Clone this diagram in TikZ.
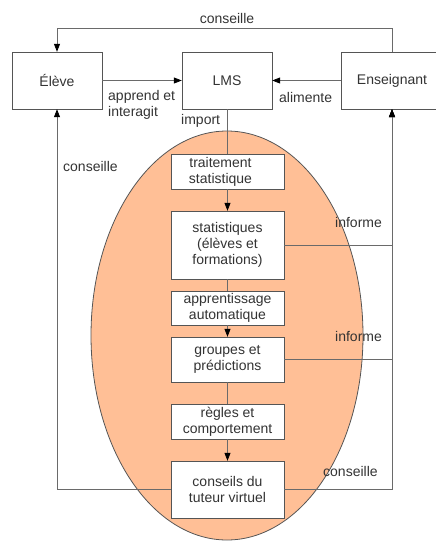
\documentclass[tikz,border=0pt]{standalone}
\usepackage{fontspec}
\setmainfont{Liberation Sans}
\usetikzlibrary{arrows.meta}
\definecolor{txt}{HTML}{333333}
\definecolor{ln}{HTML}{6A6A6A}
\definecolor{bd}{HTML}{555555}
\definecolor{peach}{HTML}{FFBF96}
\begin{document}
\begin{tikzpicture}[x=1pt,y=-1pt,
  every node/.style={text=txt,font=\fontsize{14}{16}\selectfont},
  box/.style={draw=bd,fill=white,align=center,inner sep=0pt},
  lbl/.style={inner sep=0pt,anchor=west,align=left},
  conn/.style={draw=ln,line width=0.8pt},
  arr/.style={conn,-{Triangle[length=8pt,width=6pt,color=black]}}]
\useasboundingbox (0,0) rectangle (436,542);
\fill[peach,draw=bd,line width=0.8pt] (227,335.5) ellipse [x radius=136, y radius=204.5];
% main boxes
\node[box,minimum width=90,minimum height=57] (eleve) at (57,80.5) {Élève};
\node[box,minimum width=90,minimum height=57] (lms) at (227,80.5) {LMS};
\node[box,minimum width=102,minimum height=57] (ens) at (392,80.5) {Enseignant};
% inner boxes
\node[box,minimum width=113,minimum height=35] (trait) at (227.5,171.5) {\hspace*{-14pt}traitement\\\hspace*{-14pt}statistique};
\node[box,minimum width=113,minimum height=68] (stat) at (227.5,245) {statistiques\\(élèves et\\formations)};
\node[box,minimum width=113,minimum height=34] (appr) at (227.5,308) {apprentissage\\automatique};
\node[box,minimum width=113,minimum height=45] (grp) at (227.5,359.5) {groupes et\\prédictions};
\node[box,minimum width=113,minimum height=35] (regl) at (227.5,421.5) {règles et\\comportement};
\node[box,minimum width=113,minimum height=57] (cons) at (227.5,489.5) {conseils du\\tuteur virtuel};
% connectors
\draw[conn] (lms.south) -- (lms.south |- trait.north);
\draw[arr] (trait) -- (stat);
\draw[conn] (stat) -- (appr);
\draw[arr] (appr) -- (grp);
\draw[conn] (grp) -- (regl);
\draw[arr] (regl) -- (cons);
\draw[arr] (eleve) -- (lms);
\draw[arr] (ens) -- (lms);
\draw[arr] (ens.north) -- ++(0,-23) -| (eleve.north);
\draw[arr] (stat.east) -| (ens.south);
\draw[arr] (grp.east) -| (ens.south);
\draw[arr] (cons.east) -| (ens.south);
\draw[arr] (cons.west) -| (eleve.south);
% labels
\node[lbl] at (108,105) {apprend et\\interagit};
\node[lbl] at (279,97) {alimente};
\node[lbl] at (181,121) {import};
\node at (227,18) {conseille};
\node[lbl] at (63,166) {conseille};
\node[lbl] at (335,222) {informe};
\node[lbl] at (335,336) {informe};
\node[lbl] at (323,471) {conseille};
\end{tikzpicture}
\end{document}
